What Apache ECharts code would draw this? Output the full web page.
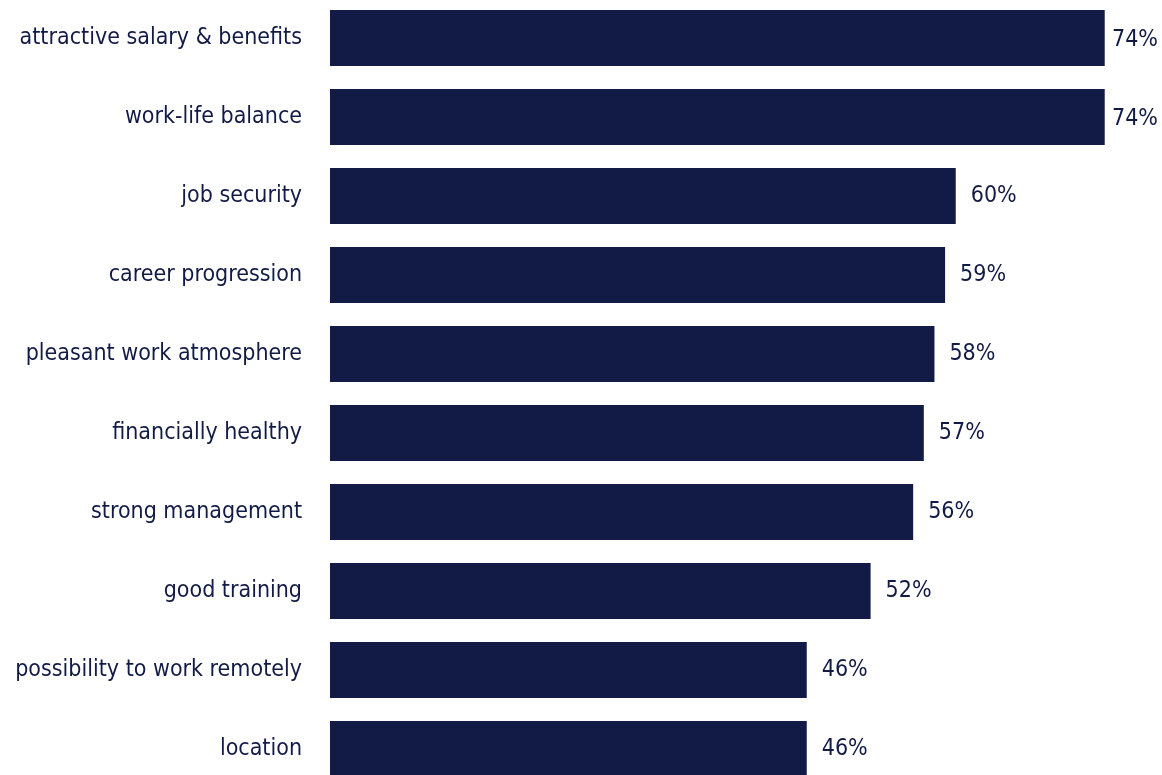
<!DOCTYPE html>
<html>
<head>
<meta charset="utf-8">
<title>Employer attractiveness drivers</title>
<script src="https://cdn.jsdelivr.net/npm/echarts@6/dist/echarts.min.js"></script>
<style>
  html, body { margin: 0; padding: 0; background: #ffffff; }
  #chart { width: 1162px; height: 775px; }
</style>
</head>
<body>
<div id="chart"></div>
<script>
// Share of respondents naming each factor (%)
const categories = [
  'attractive salary & benefits',
  'work-life balance',
  'job security',
  'career progression',
  'pleasant work atmosphere',
  'financially healthy',
  'strong management',
  'good training',
  'possibility to work remotely',
  'location'
];
const values = [74, 74, 60, 59, 58, 57, 56, 52, 46, 46];

const NAVY = '#121b45';
const FONT = '"DejaVu Sans Condensed", "DejaVu Sans", sans-serif';

const chart = echarts.init(document.getElementById('chart'), null, { renderer: 'canvas' });

chart.setOption({
  backgroundColor: '#ffffff',
  animation: false,
  grid: {
    left: 330,
    width: 796,
    top: -1.5,
    height: 790,
    containLabel: false,
    outerBoundsMode: 'none'
  },
  xAxis: {
    type: 'value',
    min: 1.2,
    max: 76,
    show: false,
    splitLine: { show: false }
  },
  yAxis: {
    type: 'category',
    inverse: true,
    data: categories,
    axisLine: { show: false },
    axisTick: { show: false },
    axisLabel: {
      margin: 28,
      color: NAVY,
      fontFamily: FONT,
      fontSize: 23,
      padding: [5, 0, 0, 0]
    }
  },
  series: [{
    type: 'bar',
    data: values,
    barWidth: 56,
    clip: true,
    itemStyle: { color: NAVY },
    label: {
      show: true,
      position: 'right',
      distance: 15,
      offset: [0, 2],
      formatter: '{c}%',
      color: NAVY,
      fontFamily: FONT,
      fontSize: 23
    },
    // keep value labels inside the canvas when the bar runs close to the edge
    labelLayout: function (params) {
      const w = chart.getWidth();
      const r = params.labelRect;
      if (r.x + r.width > w - 4) {
        return {
          x: w - 4 - r.width,
          y: r.y + r.height / 2,
          align: 'left',
          verticalAlign: 'middle'
        };
      }
      return {};
    }
  }]
});
</script>
</body>
</html>
